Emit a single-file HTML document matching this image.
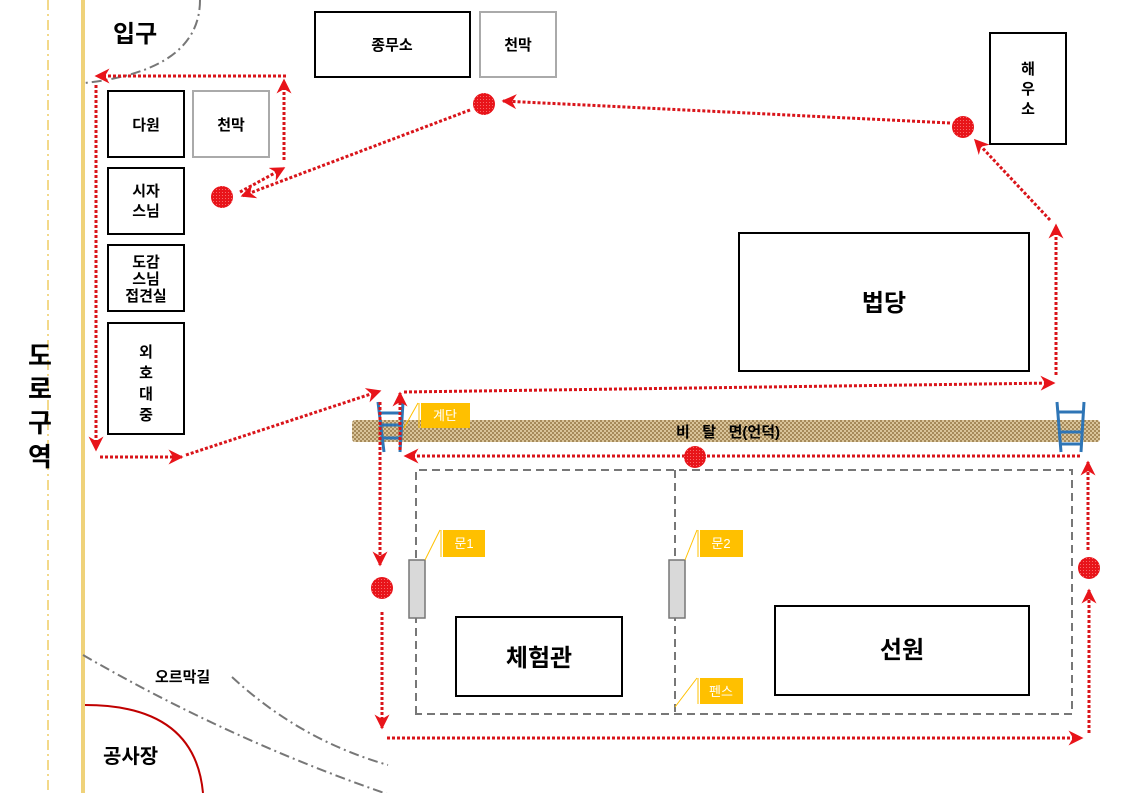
<!DOCTYPE html>
<html><head><meta charset="utf-8"><style>
html,body{margin:0;padding:0;background:#fff;}
svg{display:block;}
text{font-family:"Liberation Sans","Noto Sans CJK KR",sans-serif;font-weight:bold;fill:#000;}
</style></head><body>
<svg width="1121" height="793" viewBox="0 0 1121 793" xmlns="http://www.w3.org/2000/svg">
<defs>
<marker id="a" viewBox="0 0 10 10" refX="9" refY="5" markerWidth="5" markerHeight="5" orient="auto"><path d="M0,0 L10,5 L0,10 L3,5 z" fill="#e8141a"/></marker>
<pattern id="p" width="4" height="4" patternUnits="userSpaceOnUse"><rect width="4" height="4" fill="#d9c49a"/><rect width="2" height="2" fill="#a68a5a"/><rect x="2" y="2" width="2" height="2" fill="#a68a5a"/></pattern>
<pattern id="r" width="3" height="3" patternUnits="userSpaceOnUse"><rect width="3" height="3" fill="#e8141a"/><rect width="1" height="1" fill="#f56a6a"/></pattern>
</defs>
<!-- road -->
<line x1="48" y1="0" x2="48" y2="793" stroke="#f3d98a" stroke-width="2" stroke-dasharray="10,4,2,4"/>
<line x1="83" y1="0" x2="83" y2="793" stroke="#efd27a" stroke-width="4"/>
<g font-size="26"><text x="40" y="365" text-anchor="middle">도</text><text x="40" y="398" text-anchor="middle">로</text><text x="40" y="432" text-anchor="middle">구</text><text x="40" y="466" text-anchor="middle">역</text></g>
<path d="M200,0 Q200,70 85,83" fill="none" stroke="#777" stroke-width="2" stroke-dasharray="10,4,2,4"/>
<text x="113" y="42" font-size="24">입구</text>
<!-- boxes -->
<g fill="#fff" stroke-width="2">
<rect x="108" y="91" width="76" height="66" stroke="#000"/>
<rect x="193" y="91" width="76" height="66" stroke="#aaa"/>
<rect x="108" y="168" width="76" height="66" stroke="#000"/>
<rect x="108" y="245" width="76" height="66" stroke="#000"/>
<rect x="108" y="323" width="76" height="111" stroke="#000"/>
<rect x="315" y="12" width="155" height="65" stroke="#000"/>
<rect x="480" y="12" width="76" height="65" stroke="#aaa"/>
<rect x="990" y="33" width="76" height="111" stroke="#000"/>
<rect x="739" y="233" width="290" height="138" stroke="#000"/>
<rect x="456" y="617" width="166" height="79" stroke="#000"/>
<rect x="775" y="606" width="254" height="89" stroke="#000"/>
</g>
<g font-size="15" text-anchor="middle">
<text x="146" y="130">다원</text><text x="231" y="130">천막</text>
<text x="146" y="196">시자</text><text x="146" y="216">스님</text>
<text x="146" y="267">도감</text><text x="146" y="284">스님</text><text x="146" y="301">접견실</text>
<text x="146" y="357">외</text><text x="146" y="378">호</text><text x="146" y="399">대</text><text x="146" y="420">중</text>
<text x="392" y="50">종무소</text><text x="518" y="50">천막</text>
<text x="1028" y="74">해</text><text x="1028" y="94">우</text><text x="1028" y="114">소</text>
</g>
<text x="884" y="311" font-size="24" text-anchor="middle">법당</text>
<text x="539" y="666" font-size="24" text-anchor="middle">체험관</text>
<text x="902" y="658" font-size="24" text-anchor="middle">선원</text>
<!-- bank -->
<rect x="352" y="420" width="748" height="22" rx="3" fill="url(#p)"/>
<text x="728" y="437" font-size="15" text-anchor="middle" xml:space="preserve">비   탈   면(언덕)</text>
<!-- fence -->
<g fill="none" stroke="#777" stroke-width="2" stroke-dasharray="8,5">
<path d="M416,714 V470 H1072 V714 Z"/><line x1="675" y1="470" x2="675" y2="714"/>
</g>
<rect x="409" y="560" width="16" height="58" fill="#d9d9d9" stroke="#777" stroke-width="1.5"/>
<rect x="669" y="560" width="16" height="58" fill="#d9d9d9" stroke="#777" stroke-width="1.5"/>
<!-- ladders -->
<g stroke="#2e75b6" stroke-width="3" fill="none">
<path d="M378,402 L384,452 M403,402 L400,452 M380,413 H402 M381,425 H402 M382,438 H401"/>
<path d="M1057,402 L1061,452 M1084,402 L1081,452 M1058,412 H1083 M1060,432 H1082 M1061,444 H1081"/>
</g>
<!-- labels -->
<g font-size="13" font-weight="normal">
<path d="M404,428 L418,403" stroke="#ffc000"/><line x1="419" y1="403" x2="419" y2="428" stroke="#ffc000"/>
<rect x="421" y="403" width="49" height="25" fill="#ffc000"/><text x="445" y="420" text-anchor="middle" style="fill:#fff;font-weight:normal">계단</text>
<path d="M425,560 L440,530" stroke="#ffc000"/><line x1="441" y1="530" x2="441" y2="557" stroke="#ffc000"/>
<rect x="443" y="530" width="42" height="27" fill="#ffc000"/><text x="464" y="548" text-anchor="middle" style="fill:#fff;font-weight:normal">문1</text>
<path d="M685,560 L697,530" stroke="#ffc000"/><line x1="698" y1="530" x2="698" y2="557" stroke="#ffc000"/>
<rect x="700" y="530" width="43" height="27" fill="#ffc000"/><text x="721" y="548" text-anchor="middle" style="fill:#fff;font-weight:normal">문2</text>
<path d="M675,707 L697,678" stroke="#ffc000"/><line x1="698" y1="678" x2="698" y2="704" stroke="#ffc000"/>
<rect x="700" y="678" width="43" height="26" fill="#ffc000"/><text x="721" y="696" text-anchor="middle" style="fill:#fff;font-weight:normal">펜스</text>
</g>
<!-- paths -->
<g fill="none" stroke="#d9141a" stroke-width="3" stroke-dasharray="3,2" marker-end="url(#a)">
<path d="M286,76 H96"/>
<path d="M284,160 V80"/>
<path d="M96,85 V450"/>
<path d="M100,457 H182"/>
<path d="M186,455 L380,391"/>
<path d="M240,192 L284,168"/>
<path d="M470,110 L242,196"/>
<path d="M950,123 L503,101"/>
<path d="M1056,375 V225"/>
<path d="M1050,220 L975,140"/>
<path d="M400,450 V393"/>
<path d="M404,392 L1054,383"/>
<path d="M1080,456 H405"/>
<path d="M380,402 V565"/>
<path d="M382,612 V728"/>
<path d="M387,738 H1082"/>
<path d="M1089,733 V590"/>
<path d="M1088,550 V462"/>
</g>
<!-- dots -->
<g fill="url(#r)">
<circle cx="222" cy="197" r="11"/><circle cx="484" cy="104" r="11"/><circle cx="963" cy="127" r="11"/>
<circle cx="695" cy="457" r="11"/><circle cx="382" cy="588" r="11"/><circle cx="1089" cy="568" r="11"/>
</g>
<!-- bottom left -->
<path d="M83,655 Q230,740 390,795" fill="none" stroke="#777" stroke-width="2" stroke-dasharray="10,4,2,4"/>
<path d="M232,677 Q300,740 388,765" fill="none" stroke="#777" stroke-width="2" stroke-dasharray="10,4,2,4"/>
<text x="155" y="682" font-size="15">오르막길</text>
<path d="M85,705 Q195,705 203,793" fill="none" stroke="#c00000" stroke-width="2"/>
<text x="103" y="763" font-size="20">공사장</text>
</svg>
</body></html>
